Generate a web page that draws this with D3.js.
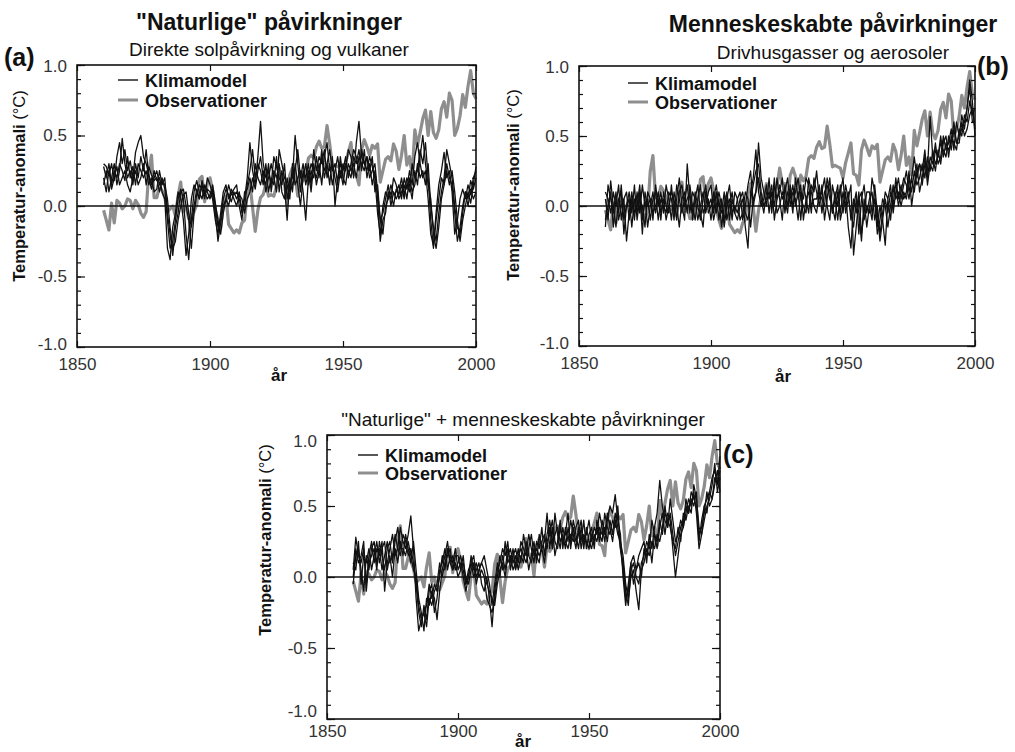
<!DOCTYPE html>
<html><head><meta charset="utf-8">
<script src="https://cdn.jsdelivr.net/npm/d3@7"></script>
<style>
body{margin:0;background:#fff}
svg{display:block}
text{font-family:"Liberation Sans",Arial,Helvetica,sans-serif;fill:#111}
</style>
</head><body>
<svg id="chart" width="1015" height="752"></svg>
<script>
// ---------- DATA ----------
const firstYear = 1860;
const xTicks = [1850, 1900, 1950, 2000];
const xTickLabels = ["1850", "1900", "1950", "2000"];
const yTicks = [-1, -0.5, 0, 0.5, 1];
const yTickLabels = ["-1.0", "-0.5", "0.0", "0.5", "1.0"];
const legendLabels = ["Klimamodel", "Observationer"];
const panelTitles = ["\"Naturlige\" påvirkninger", "Menneskeskabte påvirkninger", "\"Naturlige\" + menneskeskabte påvirkninger"];
const panelSubtitles = ["Direkte solpåvirkning og vulkaner", "Drivhusgasser og aerosoler", ""];
const panelTags = ["(a)", "(b)", "(c)"];
const yAxisTitle = "Temperatur-anomali";
const yAxisUnit = " (°C)";
const xAxisTitle = "år";

// observed annual anomaly 1860..2000
const observed = [
 -.03,-.10,-.17,.02,-.12,.04,.02,-.02,.00,.05,
 .04,-.02,.04,.01,-.05,-.08,-.04,.25,.36,.06,
 .06,.14,.11,.06,-.04,-.02,.00,-.07,.07,.17,
 -.04,.00,-.09,-.09,-.04,.01,.19,.21,.03,.16,
 .20,.11,-.03,-.10,-.16,.01,.07,-.13,-.16,-.19,
 -.17,-.19,-.12,-.10,.09,.16,-.01,-.18,-.03,.06,
 .08,.16,.07,.08,.07,.14,.27,.16,.16,.01,
 .22,.27,.21,.07,.22,.18,.21,.34,.36,.34,
 .42,.46,.41,.42,.57,.44,.28,.29,.28,.27,
 .20,.31,.38,.45,.23,.22,.15,.40,.47,.42,
 .36,.43,.41,.44,.17,.25,.33,.35,.32,.44,
 .39,.26,.36,.50,.29,.35,.22,.54,.43,.52,
 .62,.68,.50,.67,.52,.48,.54,.69,.74,.63,
 .80,.75,.50,.55,.64,.79,.70,.85,.96,.80,
 .76];

// panel (a): natural forcing model runs
const naturalRun1 = [
 .30,.28,.22,.30,.18,.35,.45,.30,.40,.25,
 .32,.20,.38,.45,.50,.35,.30,.22,.15,.25,
 .18,.20,.10,.05,-.30,-.38,-.15,-.05,.10,.05,
 -.10,-.35,-.20,.05,.15,.10,.05,.15,.08,.12,
 .10,.05,-.10,-.20,-.05,.10,.15,.05,.12,.08,
 .10,.05,-.02,.05,.20,.45,.25,.15,.35,.60,
 .30,.20,.25,.15,.35,.28,.20,.15,.30,.05,
 .15,.20,.50,.30,.10,.25,.20,.30,.15,.40,
 .25,.35,.30,.40,.20,.30,.15,.25,.35,.20,
 .30,.25,.40,.35,.20,.45,.60,.35,.30,.25,
 .35,.28,.20,-.05,-.20,.00,.10,.05,.15,.08,
 .10,.15,.05,.20,.12,.25,.15,.35,.45,.30,
 .20,.25,.05,-.20,-.28,-.05,.15,.25,.38,.20,
 .25,.10,-.20,-.10,.05,.12,.05,.15,.08,.20,
 .25];
const naturalRun2 = [
 .15,.25,.10,.20,.30,.15,.25,.48,.30,.20,
 .25,.15,.30,.20,.35,.25,.40,.20,.12,.20,
 .25,.15,.20,.12,-.10,-.30,-.25,-.10,.05,.12,
 .05,-.20,-.38,-.10,.10,.18,.10,.05,.15,.10,
 .05,.12,.00,-.15,-.10,.05,.12,.08,.03,.10,
 .05,.10,-.05,.00,.15,.25,.40,.20,.30,.25,
 .15,.30,.10,.20,.15,.35,.10,.25,.15,-.10,
 .20,.10,.30,.15,.00,.20,.30,.15,.25,.20,
 .35,.20,.40,.25,.30,.15,.35,.00,.20,.30,
 .25,.35,.20,.30,.40,.35,.25,.40,.30,.35,
 .20,.25,.30,.10,-.10,-.05,.05,.15,.00,.10,
 .05,.10,.20,.08,.15,.10,.30,.20,.25,.40,
 .30,.45,.20,-.10,-.30,-.10,.05,.20,.15,.30,
 .20,.15,-.05,-.25,-.15,.00,.10,.05,.18,.12,
 .20];
const naturalRun3 = [
 .28,.20,.30,.15,.25,.20,.30,.25,.18,.35,
 .20,.28,.15,.30,.25,.20,.25,.15,.20,.10,
 .12,.25,.15,.20,-.05,-.20,-.35,-.15,-.05,.10,
 .12,.00,-.10,-.30,-.05,.08,.15,.12,.05,.20,
 .15,.08,-.05,-.25,-.12,.00,.05,.15,.08,.12,
 .15,.00,-.10,.10,.12,.20,.10,.30,.20,.15,
 .25,.10,.20,.30,.20,.10,.40,.30,.20,.15,
 .05,.30,.15,.20,.25,.10,-.10,.20,.30,.25,
 .20,.30,.15,.35,.45,.25,.30,.20,.10,.25,
 .15,.30,.25,.20,.35,.30,.40,.25,.40,.20,
 .30,.15,.25,.05,-.25,-.10,-.05,.10,.05,.20,
 .15,.05,.10,.15,.05,.20,.10,.15,.30,.20,
 .25,.15,.30,.00,-.15,-.25,-.05,.10,.20,.40,
 .30,.20,.00,-.15,-.20,-.05,.10,.00,.12,.05,
 .10];
const naturalRun4 = [
 .20,.10,.25,.12,.20,.28,.15,.20,.25,.15,
 .10,.20,.25,.15,.20,.30,.15,.28,.22,.18,
 .20,.10,.18,.15,.05,-.15,-.30,-.25,-.10,.00,
 .08,.10,-.05,-.15,.00,.12,.05,.18,.10,.05,
 .08,.15,.02,-.10,-.20,-.05,.05,.00,.10,.05,
 .00,.08,.05,-.05,.05,.10,.20,.12,.25,.35,
 .20,.15,.30,.10,.25,.20,.30,.10,.05,.20,
 .10,.15,.25,.40,.20,.30,.15,.25,.10,.30,
 .15,.25,.35,.20,.30,.40,.25,.30,.15,.35,
 .20,.15,.30,.25,.30,.20,.35,.30,.25,.35,
 .25,.35,.10,.15,-.10,-.20,.00,.05,.10,.00,
 .12,.08,.15,.05,.20,.15,.05,.25,.15,.35,
 .50,.30,.15,.05,-.20,-.30,-.15,.05,.15,.25,
 .15,.25,.10,-.10,-.25,-.10,.00,.10,.02,.15,
 .28];

// panel (b): anthropogenic forcing model runs
const humanRun1 = [
 -.15,.15,.05,-.05,.10,-.10,.00,.05,-.25,-.05,
 .10,-.05,.00,.15,-.10,.05,-.15,.00,.10,-.05,
 .05,-.10,.10,.00,-.05,.15,-.05,.05,.20,.00,
 -.10,.30,.05,-.05,.10,.00,-.10,.05,.15,-.05,
 .00,.10,-.05,.05,-.15,.00,.10,-.10,.05,-.05,
 -.10,.00,.05,-.15,-.30,.10,.20,.40,.10,.00,
 .05,.15,-.05,.10,.00,.20,.05,-.10,.15,.00,
 .10,-.05,.20,.05,.15,-.10,.05,.10,-.05,.20,
 .10,.00,.15,-.10,.05,.20,-.05,.10,.00,.15,
 -.05,.10,-.15,-.30,.00,.10,-.20,.05,.15,-.05,
 .05,.10,-.10,.00,-.20,-.05,.10,.05,.15,-.05,
 .10,.20,.05,.15,.25,.10,.20,.35,.20,.30,
 .25,.40,.20,.35,.30,.45,.30,.35,.50,.40,
 .45,.55,.40,.60,.50,.65,.55,.70,.85,.60,
 .60];
const humanRun2 = [
 .05,-.10,.18,.00,-.15,.05,.10,-.20,.00,.10,
 -.05,.15,-.10,.05,.00,-.15,.10,.05,-.10,.15,
 .00,.10,-.05,.15,.05,-.10,.10,.00,-.15,.05,
 .10,-.05,.15,.00,-.10,.05,.15,-.05,.00,.10,
 .15,-.05,.10,-.10,.05,-.15,.00,.05,-.10,.10,
 .05,-.10,-.05,.10,.05,-.15,.05,.10,.45,.20,
 .10,.00,.20,-.05,.15,.05,.10,.20,-.05,.10,
 .05,.15,.00,.10,-.10,.15,.05,-.05,.15,.10,
 .25,.05,.10,.20,.00,-.10,.15,.05,-.10,.10,
 .20,-.05,.05,.15,-.35,-.15,.05,.10,-.10,.00,
 -.05,.20,.10,-.15,.00,-.10,-.28,.05,-.10,.10,
 .15,.00,.10,.20,.15,.05,.20,.10,.25,.30,
 .15,.30,.25,.64,.35,.25,.40,.30,.45,.50,
 .35,.50,.45,.40,.55,.50,.65,.60,.75,.65,
 .70];
const humanRun3 = [
 .10,.05,-.05,.10,.00,.15,-.10,.05,.10,-.10,
 .05,-.10,.10,-.05,.15,.00,.05,-.10,.05,.10,
 -.10,.05,.00,-.05,.10,.05,-.10,.15,.05,-.05,
 .05,.15,-.05,.10,.05,-.10,.00,.10,-.05,.05,
 -.10,.05,.15,.00,-.05,.10,-.10,.00,.10,-.05,
 .05,.10,-.10,.00,.15,.25,.00,.10,.20,.05,
 -.05,.10,.05,.15,-.10,.05,.15,.05,.10,.20,
 .00,.10,.05,-.10,.10,.05,.20,.15,.00,.05,
 .05,.15,-.05,.10,.15,.05,.00,-.10,.10,-.05,
 .10,.00,.10,-.10,.05,-.05,.10,-.20,-.05,.10,
 .10,-.05,.05,-.20,-.10,.05,.00,-.15,.00,.15,
 .05,.10,.00,.10,.05,.20,.10,.25,.15,.20,
 .30,.20,.35,.25,.40,.30,.35,.45,.40,.35,
 .50,.40,.55,.45,.45,.60,.50,.55,.65,.70,
 .55];
const humanRun4 = [
 -.10,.00,.10,-.15,.05,-.05,.15,-.10,.00,.05,
 -.15,.05,-.05,.10,-.20,.10,.00,.05,-.05,.00,
 .10,-.05,.05,-.10,.00,.10,.05,-.10,.10,.15,
 .00,.05,.10,-.10,.05,.15,-.05,-.15,.10,.00,
 .05,-.10,.00,.10,.00,-.10,.05,.15,-.05,.00,
 -.05,.05,.10,-.05,-.10,.05,.15,.25,.30,.10,
 .00,.05,.10,.00,.20,-.05,.00,.10,.05,-.05,
 .15,.00,.10,.20,.05,.00,-.05,.20,.10,.00,
 -.05,.10,.05,.00,.20,.10,-.05,.05,.15,-.10,
 .00,.15,.05,-.05,-.15,.05,-.05,-.25,.05,-.15,
 .00,-.10,.15,-.05,-.25,-.10,.05,-.05,.10,.00,
 .20,.05,.15,.05,.10,.25,.00,.15,.30,.10,
 .20,.35,.15,.30,.25,.40,.35,.50,.35,.45,
 .40,.45,.60,.45,.50,.55,.60,.70,.90,.75,
 .50];

// panel (c): natural + anthropogenic forcing model runs
const combinedRun1 = [
 .05,.28,.15,.10,.20,-.05,.15,.25,.10,.20,
 .15,.25,-.10,.10,.20,.30,.15,.20,.35,.25,
 .20,.30,.43,.20,-.15,-.38,-.30,-.25,-.20,-.05,
 -.15,-.05,-.10,.00,.15,.05,.20,.10,.15,.05,
 .10,.15,.05,-.05,.05,.10,.00,.05,.10,-.05,
 -.10,.00,-.15,-.35,-.10,.05,.10,.20,.15,.25,
 .05,.15,.20,.10,.25,.20,.15,.30,.20,.10,
 .25,.20,.35,.15,.30,.40,.25,.30,.35,.25,
 .30,.20,.35,.25,.40,.30,.20,.35,.25,.30,
 .40,.25,.35,.30,.45,.35,.25,.40,.50,.45,
 .58,.40,.30,.00,-.20,-.05,.10,.15,.05,.15,
 .20,.25,.10,.30,.20,.35,.45,.68,.50,.40,
 .35,.45,.30,.15,.25,.35,.40,.50,.45,.55,
 .50,.60,.25,.40,.50,.55,.60,.70,.75,.65,
 .85];
const combinedRun2 = [
 -.05,.15,.20,.05,-.10,.15,.05,.20,.25,.10,
 .20,.05,.15,.25,.10,.15,.30,.20,.15,.30,
 .25,.15,.20,.10,-.05,-.25,-.35,-.20,-.30,-.10,
 -.05,-.25,-.15,.05,.10,.20,.05,.15,.10,.20,
 .05,.10,.00,-.10,.00,.15,.05,.10,.00,.05,
 .00,-.15,-.20,-.25,-.15,.00,.15,.05,.25,.10,
 .15,.05,.10,.20,.10,.30,.20,.05,.15,.25,
 .10,.30,.20,.25,.45,.20,.35,.15,.25,.40,
 .20,.35,.25,.40,.30,.20,.35,.25,.40,.20,
 .30,.35,.20,.40,.30,.25,.45,.35,.30,.40,
 .35,.50,.20,.10,-.10,-.20,.05,.10,.00,-.05,
 .10,.15,.25,.20,.40,.30,.20,.35,.45,.30,
 .45,.40,.20,.00,.15,.30,.35,.45,.55,.50,
 .60,.45,.20,.30,.40,.50,.55,.65,.80,.60,
 .70];
const combinedRun3 = [
 .10,.05,.25,-.05,.15,.10,.20,.05,.15,.25,
 .10,.20,.25,.05,.15,.00,.20,.10,.25,.15,
 .30,.20,.10,.25,.05,-.15,-.25,-.38,-.15,-.20,
 -.10,-.15,-.30,-.10,.05,.15,.25,.10,.05,.15,
 .15,.05,.10,.00,-.05,.05,.10,-.05,.05,.10,
 .05,-.05,-.10,-.15,-.20,-.05,.05,.10,.00,.15,
 .20,.10,.15,.05,.15,.10,.25,.15,.10,.20,
 .15,.10,.25,.30,.20,.35,.20,.45,.30,.20,
 .35,.25,.20,.30,.25,.35,.40,.20,.30,.25,
 .20,.30,.25,.35,.25,.40,.30,.45,.35,.25,
 .40,.30,.25,.15,-.05,-.15,.00,.05,-.10,-.23,
 .05,.10,.20,.15,.25,.20,.30,.25,.35,.50,
 .35,.55,.40,.25,.30,.40,.35,.55,.45,.60,
 .55,.50,.30,.35,.45,.60,.50,.55,.65,.75,
 .60];
const combinedRun4 = [
 .00,.20,.10,.15,.25,-.10,.10,.15,.20,.05,
 .25,.15,.05,.20,.25,.10,.25,.35,.20,.20,
 .15,.25,.15,.05,.00,-.20,-.30,-.25,-.35,-.15,
 -.20,-.10,-.05,.10,.00,.10,.15,.20,.05,.10,
 .00,.05,.15,-.05,.00,.10,.15,.00,.05,.10,
 .15,.05,-.05,-.20,-.05,.10,.00,.15,.05,.20,
 .10,.20,.05,.15,.20,.15,.10,.20,.30,.15,
 .20,.15,.20,.10,.25,.30,.40,.25,.20,.35,
 .25,.30,.45,.20,.35,.25,.30,.40,.20,.35,
 .25,.20,.30,.25,.35,.30,.35,.25,.40,.30,
 .45,.35,.20,.05,-.15,-.10,.10,-.05,.05,.10,
 .00,.20,.15,.25,.10,.30,.25,.40,.30,.45,
 .40,.35,.25,.20,.35,.25,.45,.40,.50,.45,
 .65,.55,.35,.30,.50,.45,.60,.55,.70,.65,
 .75];

const panelRuns = [
  [naturalRun1, naturalRun2, naturalRun3, naturalRun4],
  [humanRun1, humanRun2, humanRun3, humanRun4],
  [combinedRun1, combinedRun2, combinedRun3, combinedRun4]
];

// ---------- LAYOUT ----------
const layouts = [
  {left:77, right:476, top:65, bottom:347, titleX:269, titleY:30, titleSize:23, titleBold:true,
   subY:56, tagX:4, tagY:66, yLabX:25, yLabY:186, xLabPad:11, arX:279, arY:381,
   legX:41, legRows:[15,35], endNudge:[-3, 1]},
  {left:579, right:975, top:66, bottom:346, titleX:833, titleY:32, titleSize:23, titleBold:true,
   subY:59, tagX:977, tagY:75, yLabX:519, yLabY:185, xLabPad:11, arX:783, arY:382,
   legX:49, legRows:[17,36], endNudge:[-3, 1]},
  {left:327, right:720, top:435, bottom:719, titleX:523, titleY:426, titleSize:19, titleBold:false,
   subY:0, tagX:723, tagY:463, yLabX:271, yLabY:540, xLabPad:6, arX:523, arY:747,
   legX:31, legRows:[20,38], endNudge:[-8, 6]}
];

const svg = d3.select("#chart");
const black = "#111", grey = "#8e8e8e";

layouts.forEach((L, i) => {
  const x = d3.scaleLinear().domain([1850, 2000]).range([L.left, L.right]);
  const y = d3.scaleLinear().domain([-1, 1]).range([L.bottom, L.top]);
  const g = svg.append("g");

  // titles
  g.append("text").attr("x", L.titleX).attr("y", L.titleY).attr("text-anchor", "middle")
    .style("font-size", L.titleSize + "px").style("font-weight", L.titleBold ? "bold" : "normal")
    .text(panelTitles[i]);
  if (panelSubtitles[i]) {
    g.append("text").attr("x", L.titleX).attr("y", L.subY).attr("text-anchor", "middle")
      .style("font-size", "19px").text(panelSubtitles[i]);
  }
  g.append("text").attr("x", L.tagX).attr("y", L.tagY).style("font-size", "25px")
    .style("font-weight", "bold").text(panelTags[i]);

  // series
  const line = d3.line().x((d, k) => x(firstYear + k)).y(d => y(d));
  g.append("path").datum(observed).attr("d", line).attr("fill", "none")
    .attr("stroke", grey).attr("stroke-width", 3.2).attr("stroke-linejoin", "round");
  panelRuns[i].forEach(run => {
    g.append("path").datum(run).attr("d", line).attr("fill", "none")
      .attr("stroke", black).attr("stroke-width", 1.3).attr("stroke-linejoin", "round");
  });

  // zero line
  g.append("line").attr("x1", x(1850)).attr("x2", x(2000)).attr("y1", y(0)).attr("y2", y(0))
    .attr("stroke", black).attr("stroke-width", 1.4);

  // axes
  const yMinor = d3.range(-10, 11).map(v => v / 10);
  const axL = d3.axisLeft(y).tickValues(yMinor).tickSize(-4).tickFormat("");
  const axR = d3.axisRight(y).tickValues(yMinor).tickSize(-4).tickFormat("");
  const axL2 = d3.axisLeft(y).tickValues(yTicks).tickSize(-8).tickPadding(10)
    .tickFormat((d, k) => yTickLabels[k]);
  const axR2 = d3.axisRight(y).tickValues(yTicks).tickSize(-8).tickFormat("");
  const axB = d3.axisBottom(x).tickValues(xTicks).tickSize(-6).tickPadding(L.xLabPad)
    .tickFormat((d, k) => xTickLabels[k]);
  const axT = d3.axisTop(x).tickValues(xTicks).tickSize(-6).tickFormat("");
  [[axL, `translate(${L.left},0)`], [axL2, `translate(${L.left},0)`],
   [axR, `translate(${L.right},0)`], [axR2, `translate(${L.right},0)`],
   [axB, `translate(0,${L.bottom})`], [axT, `translate(0,${L.top})`]].forEach(([ax, tr], n) => {
    const a = g.append("g").attr("transform", tr).call(ax);
    a.select(".domain").remove();
    a.selectAll(".tick line").attr("stroke", black).attr("stroke-width", 1.2);
    a.selectAll(".tick text").style("font-size", "17px").style("fill", "#333")
      .style("font-family", "\"Liberation Sans\",Arial,sans-serif");
    if (n === 1) {
      a.selectAll(".tick text").attr("y", d => d === -1 ? L.endNudge[0] : (d === 1 ? L.endNudge[1] : 0));
    }
  });

  // frame
  g.append("rect").attr("x", L.left).attr("y", L.top).attr("width", L.right - L.left)
    .attr("height", L.bottom - L.top).attr("fill", "none").attr("stroke", black).attr("stroke-width", 1.6);

  // axis titles
  const yl = g.append("text").attr("transform", `translate(${L.yLabX},${L.yLabY}) rotate(-90)`)
    .attr("text-anchor", "middle").style("font-size", "16.5px");
  yl.append("tspan").style("font-weight", "bold").text(yAxisTitle);
  yl.append("tspan").style("font-weight", "normal").text(yAxisUnit);
  g.append("text").attr("x", L.arX).attr("y", L.arY).attr("text-anchor", "middle")
    .style("font-size", "17px").style("font-weight", "bold").text(xAxisTitle);

  // legend
  [black, grey].forEach((c, k) => {
    const ly = L.top + L.legRows[k];
    g.append("line").attr("x1", L.left + L.legX).attr("x2", L.left + L.legX + 20)
      .attr("y1", ly).attr("y2", ly).attr("stroke", c).attr("stroke-width", k ? 3 : 1.4);
    g.append("text").attr("x", L.left + L.legX + 27).attr("y", ly + 6.5)
      .style("font-size", "18px").style("font-weight", "bold").text(legendLabels[k]);
  });
});
</script>
</body></html>
